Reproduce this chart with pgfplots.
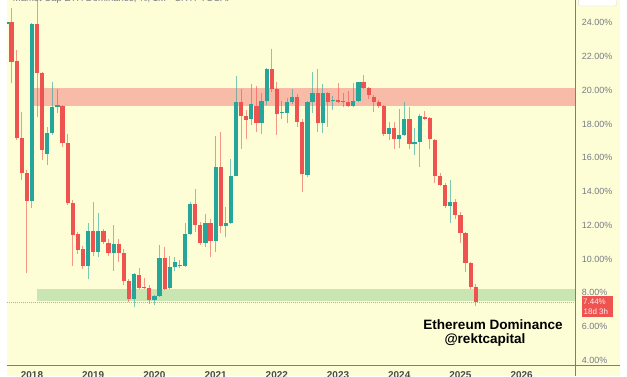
\documentclass[border=0pt]{standalone}
\usepackage{fontspec}
\setmainfont{Liberation Sans}
\usepackage{pgfplots}
\pgfplotsset{compat=1.18}
\usepackage{pgfplotstable}

\definecolor{bgy}{RGB}{253,253,214}
\definecolor{cred}{RGB}{239,83,80}
\definecolor{cteal}{RGB}{38,166,154}
\definecolor{bandred}{RGB}{248,187,167}
\definecolor{bandgreen}{RGB}{200,229,178}
\definecolor{axgray}{RGB}{120,123,134}
\definecolor{linegray}{RGB}{125,125,125}
\definecolor{yeargray}{RGB}{75,75,75}

% monthly candles, m = months since Jan 2018
\pgfplotstableread{
m O H L C
-4 24.06 24.85 20.41 21.69
-3 21.73 22.38 17.05 17.19
-2 17.19 18.73 14.68 15.08
-1 15.08 15.30 9.20 13.44
1 23.92 25.80 18.40 21.00
2 21.00 21.10 15.87 16.46
6 19.07 19.10 16.66 16.86
7 16.86 17.41 13.20 13.30
8 13.30 13.50 9.60 11.42
9 11.50 11.60 10.30 10.53
10 10.58 10.80 9.39 9.59
12 11.68 13.40 10.18 10.44
14 11.68 11.75 10.89 11.03
15 10.97 11.17 10.18 10.38
17 10.89 11.17 9.84 10.38
18 10.34 10.60 8.46 8.72
19 8.72 8.80 7.47 7.61
21 9.05 9.45 8.20 8.30
22 8.36 8.90 8.25 8.30
23 8.30 8.45 7.34 7.57
26 10.04 10.69 8.15 8.20
32 13.24 14.13 11.62 12.02
33 12.02 12.20 10.85 10.93
35 12.12 12.40 10.10 11.09
37 15.43 17.54 11.56 11.96
41 19.28 20.05 16.53 18.49
42 18.47 18.83 17.09 18.24
44 19.07 20.25 17.54 18.04
47 21.26 22.42 19.91 20.05
48 20.05 20.50 17.35 18.59
52 19.62 19.75 17.84 18.14
53 18.14 18.30 13.99 15.02
56 19.86 21.24 17.54 18.04
58 19.86 19.90 17.84 19.32
60 19.40 20.45 19.25 19.32
62 19.32 19.96 18.99 19.07
65 20.47 20.90 20.05 20.15
66 20.15 20.20 19.46 19.72
67 19.62 19.70 18.73 19.32
68 19.32 19.40 18.93 19.07
69 19.07 19.10 17.29 17.41
71 17.74 18.14 16.50 17.09
74 18.28 18.99 16.50 16.80
77 18.43 18.79 18.25 18.31
78 18.34 18.40 16.50 17.09
79 17.05 17.10 14.49 14.92
80 14.92 15.12 14.30 14.39
81 14.39 14.50 13.05 13.14
83 13.40 13.55 12.35 12.61
84 12.61 12.80 10.93 11.52
85 11.52 11.60 9.25 9.78
86 9.78 9.80 8.20 8.32
87 8.36 8.52 7.22 7.44
}\downtable

\pgfplotstableread{
m O H L C
-5 23.92 24.10 23.80 24.05
0 13.44 24.00 13.00 23.92
3 16.22 17.84 15.57 17.49
4 17.45 20.50 17.35 19.03
5 19.00 20.10 18.67 19.10
11 9.59 12.12 8.80 11.66
13 10.44 12.75 10.14 11.68
16 10.38 12.00 9.31 10.91
20 7.61 9.20 7.14 9.09
24 7.57 7.85 7.28 7.81
25 7.81 10.83 7.75 10.08
27 8.27 10.18 8.20 9.55
28 9.55 10.10 9.31 9.82
29 9.56 9.95 9.45 9.62
30 9.59 12.12 9.50 11.48
31 11.48 13.40 11.40 13.24
34 10.93 12.67 10.73 12.12
36 11.09 17.29 10.44 15.43
38 11.96 13.10 11.29 12.16
39 12.16 15.91 12.10 14.94
40 14.94 20.84 14.90 19.28
43 18.28 20.37 17.94 19.18
45 18.04 19.86 17.41 19.36
46 19.36 21.30 19.12 21.26
49 18.63 19.38 18.28 18.73
50 18.67 19.52 18.04 19.28
51 19.28 20.05 19.20 19.62
54 14.98 19.35 14.84 19.28
55 19.28 21.10 18.67 19.86
57 18.04 20.35 17.48 19.86
59 19.34 19.66 18.83 19.40
61 19.32 19.82 19.03 19.38
63 19.07 20.45 19.00 19.38
64 19.38 20.50 19.30 20.47
70 17.41 18.14 17.05 17.74
72 17.09 18.87 16.56 17.35
73 17.35 19.32 17.30 18.28
75 16.80 17.74 16.16 16.95
76 16.95 18.60 15.47 18.47
82 13.14 14.68 12.12 13.40
}\uptable

\begin{document}
\begin{tikzpicture}[x=1bp,y=1bp]
\useasboundingbox (0,0) rectangle (627,376);
\fill[bgy] (7,0) rectangle (620,376);
\begin{axis}[
  at={(7bp,11bp)}, anchor=south west,
  scale only axis, width=568.7bp, height=365bp,
  xmin=-4.9, xmax=106.6, ymin=3.72, ymax=25.35,
  axis line style={draw=none},
  major tick length=0pt,
  /pgf/number format/assume math mode=true,
  xtick={0,12,24,36,48,60,72,84,96},
  xticklabels={2018,2019,2020,2021,2022,2023,2024,2025,2026},
  xticklabel style={font=\bfseries\fontsize{10}{12}\selectfont, text=yeargray, anchor=north, inner sep=0pt, yshift=-6.7bp},
  ytick={4,6,...,24},
  yticklabel pos=right,
  yticklabel={\pgfmathprintnumber[fixed,fixed zerofill,precision=2]{\tick}\%},
  yticklabel style={font=\fontsize{9}{11}\selectfont, text=axgray, anchor=west, inner sep=0pt, xshift=6bp},
]
% zones
\addplot[fill=bandred, draw=none] coordinates {(0.26,19.07) (106.6,19.07) (106.6,20.12) (0.26,20.12)} -- cycle;
\addplot[fill=bandgreen, draw=none] coordinates {(0.92,7.53) (106.6,7.53) (106.6,8.22) (0.92,8.22)} -- cycle;
\addplot[cred, draw opacity=0.6, line width=0.6bp, dash pattern=on 0.8bp off 1.2bp] coordinates {(-4.9,7.44) (106.6,7.44)};
% wicks
\addplot[draw=none, mark=none, error bars/.cd, y dir=plus, y explicit, error mark=none,
  error bar style={draw=cred, draw opacity=0.6, line width=1bp}]
  table[x=m, y=L, y error expr=\thisrow{H}-\thisrow{L}] {\downtable};
\addplot[draw=none, mark=none, error bars/.cd, y dir=plus, y explicit, error mark=none,
  error bar style={draw=cteal, draw opacity=0.6, line width=1bp}]
  table[x=m, y=L, y error expr=\thisrow{H}-\thisrow{L}] {\uptable};
% bodies
\addplot[draw=none, mark=none, error bars/.cd, y dir=plus, y explicit, error mark=none,
  error bar style={draw=cred, line width=4.2bp}]
  table[x=m, y=C, y error expr=\thisrow{O}-\thisrow{C}] {\downtable};
\addplot[draw=none, mark=none, error bars/.cd, y dir=plus, y explicit, error mark=none,
  error bar style={draw=cteal, line width=4.2bp}]
  table[x=m, y=O, y error expr=\thisrow{C}-\thisrow{O}] {\uptable};
\end{axis}
\draw[linegray, line width=0.8bp] (575.7,0) -- (575.7,376);
\draw[linegray, line width=0.8bp] (7,11) -- (620,11);
% top-right box and title (cut off as in the screenshot)
\draw[fill=white, draw=gray!25, rounded corners=1.5bp] (578.3,370) rectangle (616.7,382);
\node[anchor=base west, text=axgray, font=\fontsize{9.5}{11}\selectfont, inner sep=0pt] at (12.7,374.3) {Market Cap ETH Dominance, \%, 1M · CRYPTOCAP};
% price label
\fill[cred] (581.7,58.7) rectangle (613.3,80);
\node[anchor=base west, text=white, text opacity=0.9, font=\fontsize{8}{9}\selectfont, inner sep=0pt] at (583,71.5) {7.44\%};
\node[anchor=base west, text=white, text opacity=0.9, font=\fontsize{8}{9}\selectfont, inner sep=0pt] at (583.5,62) {18d 3h};
% watermark
\node[anchor=base, font=\bfseries\fontsize{13.6}{16}\selectfont, inner sep=0pt] at (493,46.7) {Ethereum Dominance};
\node[anchor=base, font=\bfseries\fontsize{13.6}{16}\selectfont, inner sep=0pt] at (485,32.7) {@rektcapital};
\end{tikzpicture}
\end{document}
